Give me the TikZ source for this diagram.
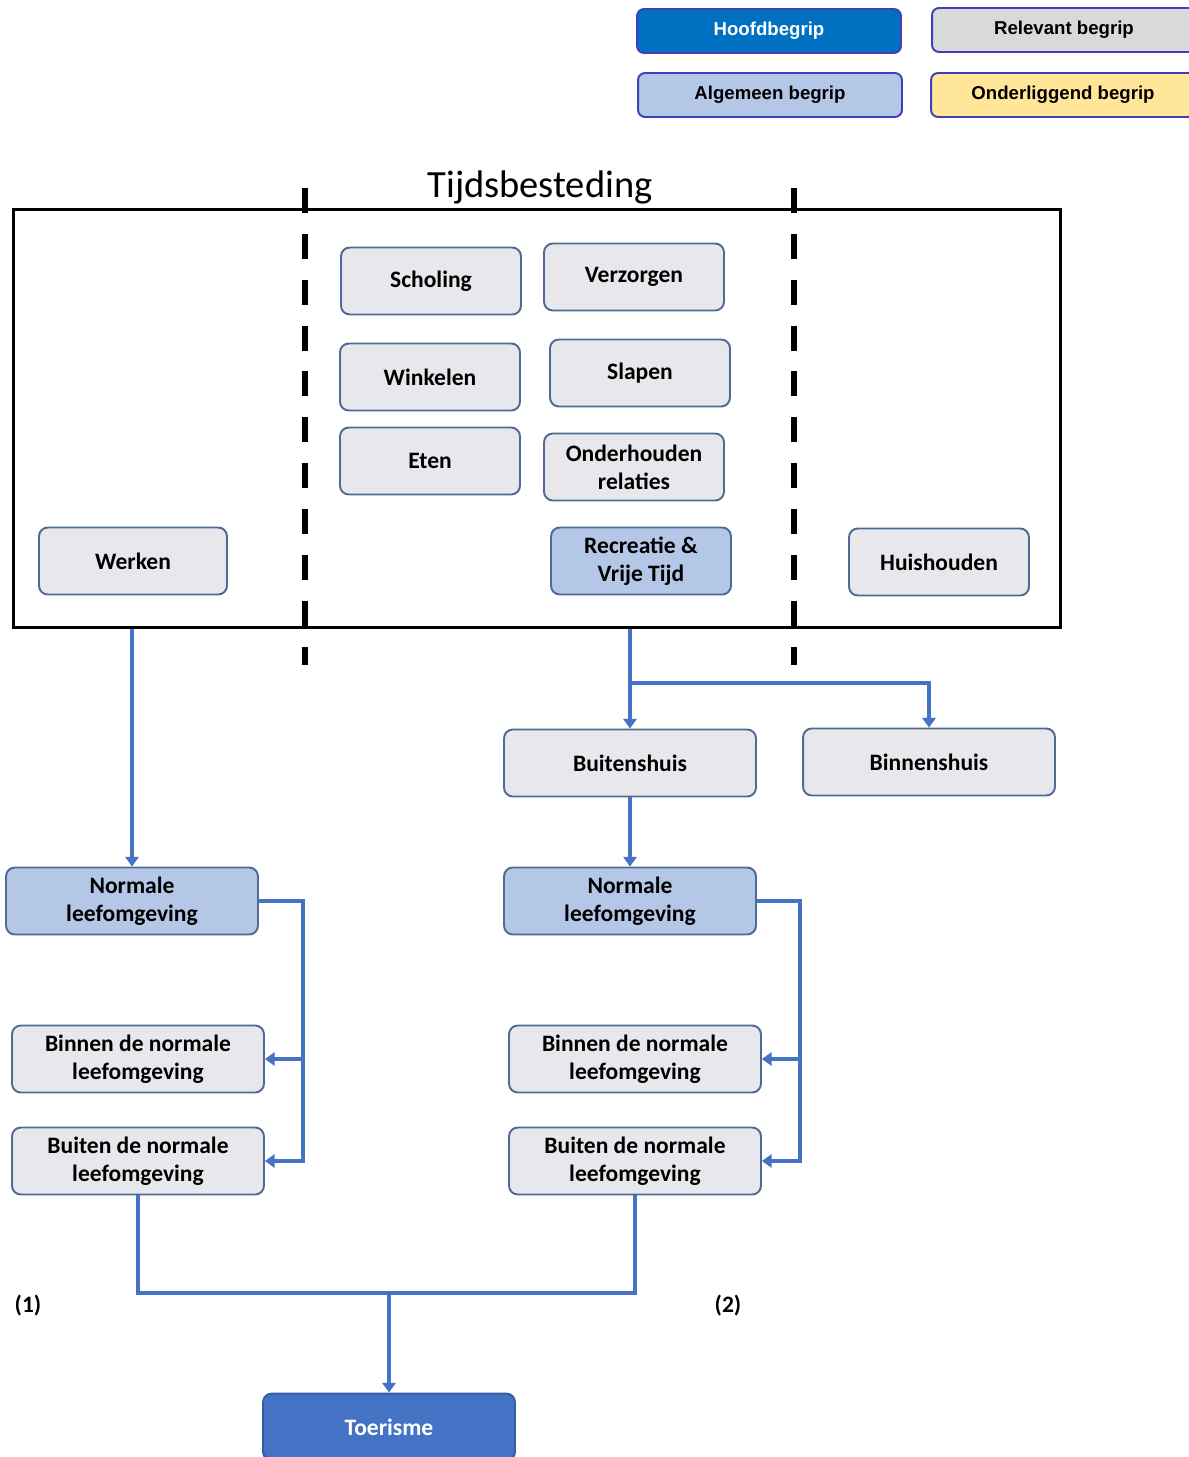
\documentclass[tikz,border=0pt]{standalone}
\usepackage{fontspec}
\setmainfont{Carlito}
\newfontfamily\legendfont{Liberation Sans}
\usepackage{tikz}
\usetikzlibrary{arrows.meta}

\definecolor{boxgrey}{HTML}{E8E8EC}
\definecolor{boxline}{HTML}{4F6A94}
\definecolor{lightblue}{HTML}{B4C7E7}
\definecolor{flowblue}{HTML}{4472C4}
\definecolor{mainblue}{HTML}{0070C0}
\definecolor{legendline}{HTML}{3F3FB8}
\definecolor{legendgrey}{HTML}{D9D9D9}
\definecolor{legendyellow}{HTML}{FFE699}

\tikzset{
  basebox/.style={draw=boxline,line width=1.1pt,rounded corners=5pt,inner sep=0pt,
    align=center,font=\fontsize{13.4}{16}\selectfont\bfseries},
  greybox/.style={basebox,fill=boxgrey,minimum width=3.6cm,minimum height=1.34cm},
  widebox/.style={greybox,minimum width=5.04cm},
  bluebox/.style={basebox,fill=lightblue,minimum width=5.04cm,minimum height=1.34cm},
  legendbox/.style={draw=legendline,line width=1.1pt,rounded corners=4pt,inner sep=0pt,
    minimum width=5.28cm,minimum height=0.88cm,font=\legendfont\fontsize{10.6}{12}\selectfont\bfseries},
  flow/.style={draw=flowblue,line width=2.2pt,-{Triangle[width=7.5pt,length=5.5pt]}},
  plainflow/.style={draw=flowblue,line width=2.2pt},
  dashline/.style={line width=3.4pt,dash pattern=on 14.2pt off 11.9pt}
}

\begin{document}
\begin{tikzpicture}[x=0.02cm,y=-0.02cm]
\clip (0,0) rectangle (1189,1457);
\fill[white] (0,0) rectangle (1189,1457);
% legend
\node (hoofd) at (769,31) [legendbox,fill=mainblue,text=white] {Hoofdbegrip};
\node (relevant) at (1064,30) [legendbox,fill=legendgrey] {Relevant begrip};
\node (algemeen) at (770,95) [legendbox,fill=lightblue] {Algemeen begrip};
\node (onderliggend) at (1063,95) [legendbox,fill=legendyellow] {Onderliggend begrip};

% tijdsbesteding
\node (frame) at (537,418.5) [draw,line width=1.7pt,minimum width=20.96cm,minimum height=8.38cm,inner sep=0pt]{};
\node (title) at (540,187) [font=\fontsize{21.9}{24}\selectfont] {Tijdsbesteding};
\draw [dashline] (305,188) -- (305,665);
\draw [dashline] (794,188) -- (794,665);

\node (scholing) at (431,281) [greybox] {Scholing};
\node (verzorgen) at (634,277) [greybox] {Verzorgen};
\node (winkelen) at (430,377) [greybox] {Winkelen};
\node (slapen) at (640,373) [greybox] {Slapen};
\node (eten) at (430,461) [greybox] {Eten};
\node (relaties) at (634,467) [greybox] {Onderhouden\\relaties};
\node (recreatie) at (641,561) [greybox,fill=lightblue] {Recreatie \&\\Vrije Tijd};
\node (werken) at (133,561) [greybox,minimum width=3.76cm] {Werken};
\node (huishouden) at (939,562) [greybox] {Huishouden};

% onder het kader
\node (buitenshuis) at (630,763) [widebox] {Buitenshuis};
\node (binnenshuis) at (929,762) [widebox] {Binnenshuis};
\node (normL) at (132,901) [bluebox] {Normale\\leefomgeving};
\node (normR) at (630,901) [bluebox] {Normale\\leefomgeving};
\node (binnenL) at (138,1059) [widebox] {Binnen de normale\\leefomgeving};
\node (buitenL) at (138,1161) [widebox] {Buiten de normale\\leefomgeving};
\node (binnenR) at (635,1059) [widebox] {Binnen de normale\\leefomgeving};
\node (buitenR) at (635,1161) [widebox] {Buiten de normale\\leefomgeving};
\node (toerisme) at (389,1427) [basebox,draw=flowblue!80!black,fill=flowblue,text=white,minimum width=5.04cm,minimum height=1.34cm] {Toerisme};
\node (een) at (28,1306) [font=\fontsize{13.4}{16}\selectfont\bfseries] {(1)};
\node (twee) at (728,1306) [font=\fontsize{13.4}{16}\selectfont\bfseries] {(2)};

\coordinate (split) at (630,683);
\coordinate (join) at (389,1293);

% pijlen
\draw [flow] (frame.south -| normL.north) -- (normL.north);
\draw [flow] (frame.south -| buitenshuis.north) -- (buitenshuis.north);
\draw [flow] (split) -| (binnenshuis.north);
\draw [flow] (buitenshuis) -- (normR);
\draw [flow] (normL.east) -- ++(44,0) |- (binnenL.east);
\draw [flow] (normL.east) -- ++(44,0) |- (buitenL.east);
\draw [flow] (normR.east) -- ++(43,0) |- (binnenR.east);
\draw [flow] (normR.east) -- ++(43,0) |- (buitenR.east);
\draw [plainflow] (buitenL.south) |- (join) -| (buitenR.south);
\draw [flow] (join) -- (toerisme);
\end{tikzpicture}
\end{document}
